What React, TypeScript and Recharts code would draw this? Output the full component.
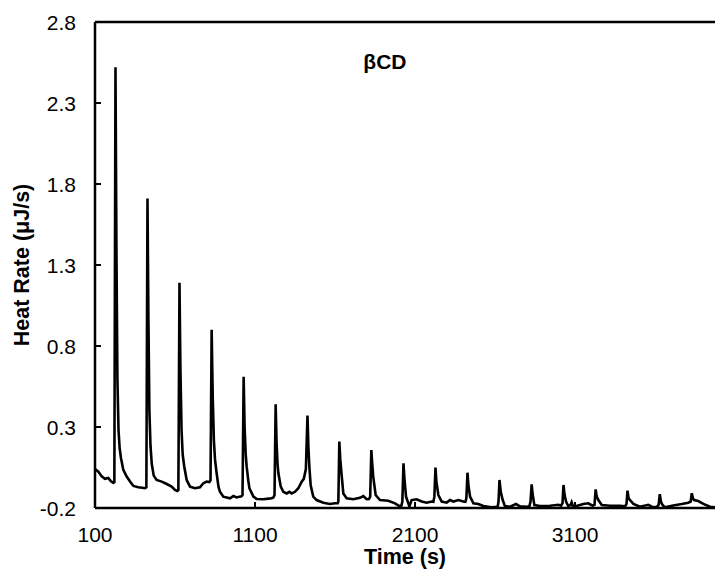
import { LineChart, Line, XAxis, YAxis, ReferenceLine, ReferenceDot } from "recharts";

// ITC trace: time (s) and heat rate (µJ/s)
const timeS = [
  100, 121, 142, 162, 183, 200, 215, 221,
  228, 234, 240, 247, 254, 262, 277, 298, 319, 340, 370, 395, 412, 421,
  428, 434, 440, 447, 455, 467, 485, 517, 548, 579, 600, 614, 621,
  628, 634, 641, 648, 658, 673, 694, 725, 756, 777, 798, 815, 822,
  829, 836, 843, 850, 860, 872, 881, 902, 944, 965, 985, 1002, 1015, 1022,
  1029, 1035, 1042, 1048, 1058, 1065, 1090, 1110, 1152, 1185, 1204, 1215, 1222,
  1229, 1235, 1241, 1246, 1261, 1277, 1298, 1315, 1329, 1350, 1371, 1392, 1405, 1418,
  1428, 1434, 1440, 1448, 1464, 1485, 1527, 1569, 1600, 1617, 1621,
  1627, 1633, 1640, 1652, 1673, 1714, 1756, 1777, 1798, 1812, 1820,
  1827, 1833, 1839, 1854, 1881, 1933, 1975, 2002, 2015, 2021,
  2028, 2034, 2044, 2065, 2079, 2110, 2142, 2173, 2204, 2215, 2221,
  2228, 2234, 2246, 2267, 2298, 2319, 2340, 2371, 2402, 2415, 2421,
  2428, 2434, 2444, 2465, 2496, 2527, 2579, 2610, 2617, 2622,
  2628, 2636, 2648, 2662, 2694, 2731, 2756, 2798, 2815, 2822,
  2829, 2836, 2846, 2881, 2944, 2996, 3013, 3022,
  3028, 3035, 3044, 3058, 3072, 3079, 3086, 3110, 3152, 3183, 3210, 3222,
  3229, 3236, 3246, 3267, 3319, 3381, 3413, 3422,
  3428, 3435, 3444, 3465, 3506, 3558, 3590, 3612, 3623,
  3630, 3637, 3646, 3662, 3714, 3767, 3808, 3823,
  3830, 3837, 3844, 3870, 3902, 3944, 3975,
];

const heatRate = [
  0.04, 0.024, -0.005, -0.02, -0.015, -0.035, -0.045, -0.04,
  2.52, 1.4, 0.6, 0.28, 0.17, 0.11, 0.035, -0.006, -0.037, -0.064, -0.072, -0.075, -0.078, -0.072,
  1.71, 0.95, 0.4, 0.18, 0.07, 0.0, -0.027, -0.037, -0.052, -0.068, -0.089, -0.095, -0.09,
  1.19, 0.65, 0.28, 0.13, 0.055, -0.027, -0.068, -0.078, -0.072, -0.047, -0.037, -0.04, -0.03,
  0.9, 0.48, 0.22, 0.1, 0.016, -0.07, -0.1, -0.13, -0.14, -0.126, -0.135, -0.13, -0.128, -0.12,
  0.61, 0.3, 0.13, 0.055, -0.03, -0.078, -0.13, -0.144, -0.146, -0.142, -0.14, -0.135, -0.12,
  0.44, 0.2, 0.07, 0.016, -0.068, -0.1, -0.11, -0.1, -0.11, -0.1, -0.078, -0.037, -0.02, 0.04,
  0.37, 0.17, 0.05, -0.06, -0.13, -0.151, -0.167, -0.175, -0.171, -0.17, -0.16,
  0.21, 0.1, 0.02, -0.11, -0.14, -0.146, -0.137, -0.126, -0.146, -0.145, -0.13,
  0.158, 0.07, -0.006, -0.12, -0.151, -0.155, -0.171, -0.188, -0.185, -0.16,
  0.076, -0.02, -0.13, -0.19, -0.151, -0.146, -0.16, -0.167, -0.16, -0.162, -0.13,
  0.049, -0.04, -0.12, -0.16, -0.167, -0.151, -0.16, -0.151, -0.16, -0.162, -0.14,
  0.018, -0.06, -0.13, -0.171, -0.175, -0.188, -0.196, -0.192, -0.19, -0.16,
  -0.027, -0.1, -0.151, -0.188, -0.192, -0.175, -0.19, -0.192, -0.19, -0.16,
  -0.054, -0.12, -0.182, -0.188, -0.186, -0.18, -0.186, -0.17,
  -0.058, -0.12, -0.16, -0.188, -0.182, -0.165, -0.186, -0.188, -0.175, -0.171, -0.186, -0.18,
  -0.085, -0.13, -0.151, -0.182, -0.186, -0.187, -0.19, -0.175,
  -0.093, -0.14, -0.151, -0.175, -0.192, -0.18, -0.196, -0.192, -0.18,
  -0.115, -0.16, -0.18, -0.196, -0.184, -0.175, -0.167, -0.16,
  -0.109, -0.14, -0.151, -0.157, -0.175, -0.192, -0.196,
];

const xTicks = [100, 1100, 2100, 3100];
const yTicks = [-0.2, 0.3, 0.8, 1.3, 1.8, 2.3, 2.8];

const data = timeS.map((t, i) => ({ t, heat: heatRate[i] }));

const FONT = "'Liberation Sans', Arial, sans-serif";

function XTick({ x, y, payload }: any) {
  return (
    <g>
      <line x1={x} x2={x} y1={y} y2={y - 6} stroke="#000" strokeWidth={2} />
      <text x={x} y={y + 34} textAnchor="middle" fontSize={21} fill="#000">
        {payload.value}
      </text>
    </g>
  );
}

function YTick({ x, y, payload }: any) {
  return (
    <g>
      <line x1={x} x2={x + 6} y1={y} y2={y} stroke="#000" strokeWidth={2} />
      <text x={x - 19} y={y + 7.5} textAnchor="end" fontSize={21} fill="#000">
        {Number(payload.value).toFixed(1)}
      </text>
    </g>
  );
}

function YTitle({ viewBox }: any) {
  const cx = 22;
  const cy = viewBox.y + viewBox.height / 2;
  return (
    <text
      x={cx}
      y={cy}
      transform={`rotate(-90, ${cx}, ${cy})`}
      textAnchor="middle"
      dominantBaseline="central"
      fontSize={21.5}
      fontWeight="bold"
      fill="#000"
    >
      Heat Rate (μJ/s)
    </text>
  );
}

function XTitle({ viewBox }: any) {
  const cx = viewBox.x + viewBox.width / 2;
  return (
    <text x={cx} y={564} textAnchor="middle" fontSize={21.5} fontWeight="bold" fill="#000">
      Time (s)
    </text>
  );
}

export default function App() {
  return (
    <div style={{ position: "absolute", left: 0, top: 0, width: 715, height: 571, overflow: "hidden", background: "#fff", fontFamily: FONT }}>
      <LineChart width={715} height={571} data={data} margin={{ top: 22, right: 0, bottom: 0, left: 0 }}>
        <XAxis
          dataKey="t"
          type="number"
          domain={[100, 3975]}
          ticks={xTicks}
          allowDataOverflow
          height={63}
          tickSize={0}
          tickMargin={0}
          tickLine={false}
          axisLine={{ stroke: "#000", strokeWidth: 2.5 }}
          tick={<XTick />}
          label={{ content: <XTitle /> }}
        />
        <YAxis
          type="number"
          domain={[-0.2, 2.8]}
          ticks={yTicks}
          allowDataOverflow
          width={95}
          tickSize={0}
          tickMargin={0}
          tickLine={false}
          axisLine={{ stroke: "#000", strokeWidth: 2.5 }}
          tick={<YTick />}
          label={{ content: <YTitle /> }}
        />
        <ReferenceLine y={2.8} stroke="#000" strokeWidth={2.5} />
        <ReferenceDot
          x={1912}
          y={2.555}
          r={0}
          fill="none"
          stroke="none"
          label={{ value: "βCD", position: "center", fontSize: 21, fontWeight: "bold", fill: "#000" }}
        />
        <Line
          type="linear"
          dataKey="heat"
          stroke="#000"
          strokeWidth={2.6}
          dot={false}
          isAnimationActive={false}
        />
      </LineChart>
    </div>
  );
}
